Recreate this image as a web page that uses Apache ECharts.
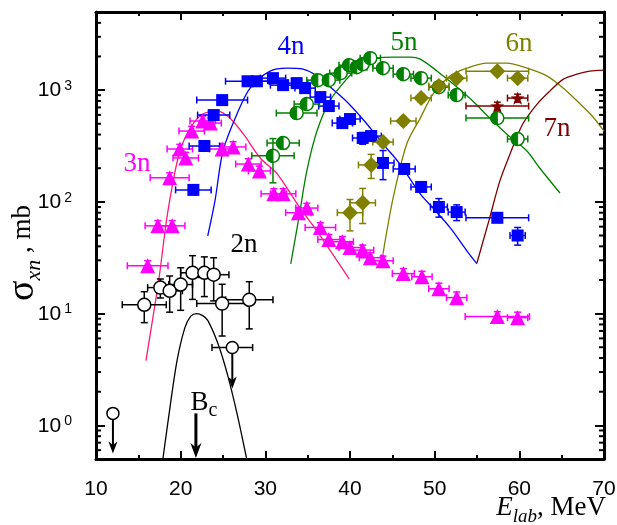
<!DOCTYPE html>
<html>
<head>
<meta charset="utf-8">
<script src="https://cdn.jsdelivr.net/npm/echarts@6/dist/echarts.min.js"></script>
<style>
  html, body { margin: 0; padding: 0; background: #fff; }
  #chart { width: 617px; height: 525px; }
</style>
</head>
<body>
<div id="chart"></div>
<script>
// ---- Measured cross sections (E_lab in MeV, sigma in mb) ----
// (HI,2n)
const e2n  = [15.7, 17.6, 18.7, 20.0, 21.4, 22.8, 23.9, 24.9, 28.1];
const s2n  = [12.0, 17.1, 16.0, 18.2, 23.2, 23.2, 22.3, 12.3, 13.3];
const dx2n = [2.6, 1.5, 1.5, 1.4, 1.4, 1.4, 1.8, 3.0, 2.8];
const dy2n = [3.7, 3.3, 5.7, 7.5, 9.8, 9.0, 9.3, 6.0, 6.0];
// (HI,2n) upper limits
const e2nLim  = [12.0, 26.1];
const s2nLim  = [1.28, 4.97];
const dx2nLim = [0, 2.4];
const tip2nLim = [0.56, 2.14];

// (HI,3n)
const e3n  = [16.1, 17.3, 19.0, 18.7, 19.9, 20.6, 21.3, 22.6, 23.5, 24.9, 26.2, 28.0, 29.3, 31.0, 32.1, 33.9, 34.9, 36.5, 37.5, 39.1, 40.0, 41.5, 42.4, 43.9, 46.3, 48.5, 50.5, 52.6, 57.4, 59.8];
const s3n  = [26.8, 61, 61, 164, 297, 247, 430, 529, 507, 297, 310, 218, 189, 118, 118, 80, 88, 59, 46, 44, 39, 37, 31.6, 29.7, 22.8, 21.4, 16.7, 13.9, 9.4, 9.2];
const dx3n = [2.4, 1.5, 1.5, 2.3, 1.5, 1.5, 1.5, 1.5, 1.3, 1.5, 1.5, 1.5, 1.3, 1.5, 1.5, 1.5, 1.3, 1.8, 1.3, 1.3, 1.3, 1.3, 1.3, 1.2, 1.3, 1.2, 1.2, 1.2, 3.8, 1.2];
const dy3n = [3, 7, 7, 18, 30, 30, 45, 55, 55, 35, 35, 25, 20, 13, 13, 9, 9, 6, 5, 5, 4, 4, 3.5, 3, 2.5, 2.5, 2, 1.7, 1, 1.1];

// (HI,4n)
const e4n  = [21.5, 22.8, 23.9, 24.9, 27.9, 29.0, 30.9, 32.1, 33.7, 34.7, 36.5, 37.5, 39.1, 40.0, 41.5, 42.5, 43.9, 46.4, 48.4, 50.5, 52.6, 57.4, 59.8];
const s4n  = [128, 316, 598, 814, 1200, 1200, 1280, 1108, 1155, 1042, 866, 720, 507, 551, 373, 388, 223, 197, 136, 90, 81, 72, 50];
const dx4n = [2.1, 1.8, 1.9, 3.0, 2.6, 1.5, 1.5, 1.5, 1.3, 1.2, 1.2, 1.2, 1.2, 1.2, 1.2, 1.2, 1.3, 1.3, 1.2, 1.0, 1.0, 3.7, 0.9];
const dy4n = [12, 30, 50, 60, 90, 90, 100, 90, 90, 80, 70, 60, 45, 45, 45, 35, 65, 20, 12, 17, 13, 6, 9];

// (HI,5n)
const e5n  = [30.9, 32.1, 33.7, 34.9, 36.2, 37.5, 38.9, 39.9, 40.8, 41.5, 42.4, 43.9, 46.3, 48.4, 50.5, 52.6, 57.4, 59.8];
const s5n  = [258, 336, 623, 750, 1228, 1228, 1419, 1671, 1604, 1706, 1931, 1572, 1389, 1280, 1063, 902, 562, 365];
const dx5n = [2.5, 1.9, 2.4, 1.5, 1.3, 1.3, 1.3, 1.2, 1.2, 1.2, 1.2, 1.2, 1.2, 1.2, 1.2, 1.0, 3.7, 1.2];
const dy5n = [110, 40, 50, 60, 90, 90, 100, 120, 120, 120, 140, 110, 100, 90, 80, 70, 45, 30];

// (HI,6n)
const e6n  = [40.0, 41.5, 42.5, 43.9, 46.3, 48.4, 50.5, 52.6, 57.4, 59.8];
const s6n  = [80, 98, 214, 343, 529, 849, 1086, 1280, 1478, 1280];
const dx6n = [1.5, 1.5, 1.5, 1.2, 1.5, 1.2, 1.2, 1.2, 3.7, 1.2];
const dy6n = [25, 34, 52, 30, 45, 70, 90, 100, 110, 100];

// (HI,7n)
const e7n  = [57.4, 59.8];
const s7n  = [720, 849];
const dx7n = [3.7, 1.2];
const dy7n = [60, 70];

// ---- Calculated excitation functions ----
const c2nE = [17.9, 18.74, 19.57, 20.5, 21.2, 21.9, 22.6, 23.2, 24.4, 25.5, 26.65, 27.8];
const c2nS = [0.5, 1.45, 3.8, 7.5, 9.5, 10.0, 9.6, 8.7, 5.4, 2.9, 1.28, 0.5];
const c3nE = [15.9, 17.4, 18.5, 19.9, 21.3, 22.6, 24.4, 25.8, 27.4, 29.4, 31.4, 34.1, 36.1, 39.9];
const c3nS = [3.8, 19.7, 83, 285, 477, 611, 649, 562, 405, 247, 178, 88, 55, 20.5];
const c4nE = [23.2, 24.05, 25.0, 26.65, 28.2, 30.55, 32.6, 34.45, 36.1, 38.5, 40.0, 42.0, 43.9, 45.9, 48.3, 49.8, 51.8, 53.8, 55.0];
const c4nS = [49.7, 102, 285, 611, 1042, 1478, 1572, 1540, 1334, 940, 735, 497, 330, 218, 118, 88, 59, 36.5, 27.9];
const c5nE = [33.0, 34.0, 34.9, 36.1, 37.6, 39.6, 41.2, 43.2, 45.1, 47.1, 48.3, 50.3, 52.2, 54.5, 56.5, 58.5, 60.9, 62.4, 64.8];
const c5nS = [27.9, 75, 189, 430, 798, 1253, 1638, 1931, 1972, 1972, 1892, 1478, 1132, 798, 562, 405, 285, 201, 120];
const c6nE = [43.9, 45.1, 46.7, 48.3, 49.8, 51.8, 53.8, 56.2, 58.5, 60.9, 63.3, 65.6, 67.2, 68.6, 70.0];
const c6nS = [34.4, 109, 330, 562, 920, 1334, 1572, 1741, 1741, 1572, 1334, 979, 750, 586, 430];
const c7nE = [55.0, 56.5, 57.7, 58.9, 60.4, 62.1, 63.6, 65.2, 66.8, 68.3, 69.9];
const c7nS = [28.5, 72, 154, 268, 497, 750, 979, 1253, 1389, 1478, 1508];

// Coulomb barrier
const barrierE = [21.8];
const barrierFrom = [1.28];
const barrierTo = [0.51];

// Axis ticks
const xTicks = [10, 20, 30, 40, 50, 60, 70];
const yMinorTicks = [0.6, 0.7, 0.8, 0.9, 2, 3, 4, 5, 6, 7, 8, 9, 20, 30, 40, 50, 60, 70, 80, 90,
                     200, 300, 400, 500, 600, 700, 800, 900, 2000, 3000, 4000];

// ---- Styling ----
const SANS = 'Liberation Sans, Arial, sans-serif';
const SERIF = 'Liberation Serif, Times New Roman, serif';
const MAGENTA = '#ff00ff', PINK = '#ff1a75', BLUE = '#0000ff', GREEN = '#008000',
      OLIVE = '#808000', DARKRED = '#800000', BLACK = '#000000';
const X_MIN = xTicks[0], X_MAX = xTicks[xTicks.length - 1];
const Y_MIN = 0.5, Y_MAX = 5000;

const STAR = 'path://M10,0 L12.35,6.76 L19.51,6.91 L13.8,11.24 L15.88,18.09 L10,14 L4.12,18.09 L6.2,11.24 L0.49,6.91 L7.65,6.76 Z';

function pairs(xs, ys) { return xs.map((x, i) => [x, ys[i]]); }

function curve(xs, ys, color) {
  return {
    type: 'line', data: pairs(xs, ys), showSymbol: false, smooth: 0.3, z: 2,
    silent: true, clip: true,
    lineStyle: { color: color, width: 1.3 }
  };
}

function errorBars(xs, ys, dxs, dys, color) {
  return {
    type: 'custom', z: 3, silent: true, clip: true,
    encode: { x: 0, y: 1 },
    data: xs.map((x, i) => [x, ys[i], dxs[i], dys[i]]),
    renderItem: function (params, api) {
      const x = api.value(0), y = api.value(1), dx = api.value(2), dy = api.value(3);
      const st = { stroke: color, lineWidth: 1.5 };
      const cap = 3.5;
      const kids = [];
      const seg = (x1, y1, x2, y2) => kids.push({ type: 'line', shape: { x1, y1, x2, y2 }, style: st });
      if (dx > 0) {
        const a = api.coord([x - dx, y]), b = api.coord([x + dx, y]);
        seg(a[0], a[1], b[0], b[1]);
        seg(a[0], a[1] - cap, a[0], a[1] + cap);
        seg(b[0], b[1] - cap, b[0], b[1] + cap);
      }
      if (dy > 0) {
        const a = api.coord([x, y + dy]), b = api.coord([x, Math.max(y - dy, y * 0.05)]);
        seg(a[0], a[1], b[0], b[1]);
        seg(a[0] - cap, a[1], a[0] + cap, a[1]);
        seg(b[0] - cap, b[1], b[0] + cap, b[1]);
      }
      return { type: 'group', children: kids };
    }
  };
}

function markers(xs, ys, symbol, size, fill, border, z) {
  return {
    type: 'scatter', data: pairs(xs, ys), symbol: symbol, symbolSize: size,
    symbolKeepAspect: true, z: z || 4, silent: true,
    itemStyle: { color: fill, opacity: 1, borderColor: border || fill, borderWidth: border ? 1.5 : 0 }
  };
}

function arrows(xs, from, to, width, headLen, headHalf) {
  return {
    type: 'custom', z: 4, silent: true, clip: false,
    encode: { x: 0, y: 1 },
    data: xs.map((x, i) => [x, from[i], to[i]]),
    renderItem: function (params, api) {
      const a = api.coord([api.value(0), api.value(1)]);
      const b = api.coord([api.value(0), api.value(2)]);
      return {
        type: 'group', children: [
          { type: 'line', shape: { x1: a[0], y1: a[1], x2: b[0], y2: b[1] - headLen * 0.6 },
            style: { stroke: BLACK, lineWidth: width } },
          { type: 'polygon', shape: { points: [[b[0] - headHalf, b[1] - headLen], [b[0], b[1] - headLen * 0.7],
                                               [b[0] + headHalf, b[1] - headLen], [b[0], b[1]]] },
            style: { fill: BLACK } }
        ]
      };
    }
  };
}

// Open circle with the left half filled
const halfDisc = {
  type: 'custom', z: 4, silent: true, clip: true,
  encode: { x: 0, y: 1 },
  data: pairs(e5n, s5n),
  renderItem: function (params, api) {
    const c = api.coord([api.value(0), api.value(1)]);
    const r = 6.5;
    return {
      type: 'group', children: [
        { type: 'circle', shape: { cx: c[0], cy: c[1], r: r }, style: { fill: '#fff', stroke: GREEN, lineWidth: 1.5 } },
        { type: 'sector', shape: { cx: c[0], cy: c[1], r0: 0, r: r, startAngle: Math.PI / 2, endAngle: Math.PI * 1.5, clockwise: true },
          style: { fill: GREEN, stroke: GREEN, lineWidth: 1 } }
      ]
    };
  }
};

// Minor ticks of the logarithmic axis on the left and right frame edges
const logMinorTicks = {
  type: 'custom', z: 5, silent: true, clip: false,
  encode: { x: 0, y: 1 },
  data: yMinorTicks.map(v => [X_MIN, v]),
  renderItem: function (params, api) {
    const v = api.value(1);
    const l = api.coord([X_MIN, v]), r = api.coord([X_MAX, v]);
    const st = { stroke: BLACK, lineWidth: 2 };
    return {
      type: 'group', children: [
        { type: 'line', shape: { x1: l[0], y1: l[1], x2: l[0] + 5, y2: l[1] }, style: st },
        { type: 'line', shape: { x1: r[0], y1: r[1], x2: r[0] - 5, y2: r[1] }, style: st }
      ]
    };
  }
};

// Curve and reaction-channel labels (placed in data coordinates)
const labelSpots = [
  { text: '3n', e: 14.84, s: 218, color: MAGENTA },
  { text: '4n', e: 33.03, s: 2420, color: BLUE },
  { text: '5n', e: 46.38, s: 2630, color: GREEN },
  { text: '6n', e: 59.96, s: 2573, color: OLIVE },
  { text: '7n', e: 64.45, s: 449, color: DARKRED },
  { text: '2n', e: 27.48, s: 41.3, color: BLACK },
  { text: '{b|B}{c|c}', e: 22.75, s: 1.58, color: BLACK }
];

const labels = {
  type: 'scatter', z: 6, silent: true, symbolSize: 0,
  itemStyle: { opacity: 1 },
  data: labelSpots.map(l => ({
    value: [l.e, l.s],
    label: { formatter: l.text, color: l.color }
  })),
  label: {
    show: true, position: 'inside', fontFamily: SERIF, fontSize: 27, opacity: 1,
    rich: {
      b: { fontFamily: SERIF, fontSize: 27, color: BLACK, lineHeight: 36, verticalAlign: 'middle' },
      c: { fontFamily: SERIF, fontSize: 20, color: BLACK, verticalAlign: 'bottom' }
    }
  }
};

const xCommon = {
  type: 'value', min: X_MIN, max: X_MAX, interval: 10,
  axisLine: { show: true, onZero: false, lineStyle: { color: BLACK, width: 3 } },
  axisTick: { show: true, inside: true, length: 8, lineStyle: { color: BLACK, width: 2 } },
  minorTick: { show: true, splitNumber: 2, length: 4, lineStyle: { color: BLACK, width: 2 } },
  splitLine: { show: false }
};

const yCommon = {
  type: 'log', logBase: 10, min: Y_MIN, max: Y_MAX,
  axisLine: { show: true, onZero: false, lineStyle: { color: BLACK, width: 3 } },
  axisTick: { show: true, inside: true, length: 9, lineStyle: { color: BLACK, width: 2 } },
  splitLine: { show: false }
};

const option = {
  animation: false,
  backgroundColor: '#fff',
  grid: { left: 96, right: 13, top: 12, bottom: 66, containLabel: false, outerBoundsMode: 'none' },
  xAxis: [
    Object.assign({}, xCommon, {
      position: 'bottom',
      axisLabel: { show: true, margin: 20, color: BLACK, fontFamily: SANS, fontSize: 21,
                   formatter: v => (xTicks.indexOf(v) >= 0 ? String(v) : '') }
    }),
    Object.assign({}, xCommon, { position: 'top', axisLabel: { show: false } })
  ],
  yAxis: [
    Object.assign({}, yCommon, {
      position: 'left',
      axisLabel: {
        show: true, margin: 24, showMinLabel: false, showMaxLabel: false,
        formatter: function (v) {
          const lg = Math.log10(v), e = Math.round(lg);
          if (Math.abs(lg - e) > 1e-6) return '';
          return '{b|10}{s|' + e + '}';
        },
        rich: {
          b: { fontFamily: SANS, fontSize: 21, color: BLACK, lineHeight: 22, verticalAlign: 'bottom' },
          s: { fontFamily: SANS, fontSize: 14, color: BLACK, lineHeight: 14, verticalAlign: 'top', padding: [0, 0, 0, 3] }
        }
      }
    }),
    Object.assign({}, yCommon, { position: 'right', axisLabel: { show: false } })
  ],
  graphic: [
    {
      type: 'text', x: 23, y: 253, rotation: Math.PI / 2, silent: true,
      style: {
        text: '{s|σ}{sub|xn}{t| , mb}',
        align: 'center', verticalAlign: 'middle',
        rich: {
          s: { fontFamily: SERIF, fontSize: 38, lineHeight: 44, verticalAlign: 'middle', fill: BLACK },
          sub: { fontFamily: SERIF, fontStyle: 'italic', fontSize: 22, verticalAlign: 'bottom', fill: BLACK },
          t: { fontFamily: SERIF, fontSize: 27, lineHeight: 44, verticalAlign: 'middle', fill: BLACK }
        }
      }
    },
    {
      type: 'text', x: 606, y: 508, silent: true,
      style: {
        text: '{e|E}{sub|lab}{t|, MeV}',
        align: 'right', verticalAlign: 'middle',
        rich: {
          e: { fontFamily: SERIF, fontStyle: 'italic', fontSize: 27, lineHeight: 36, verticalAlign: 'middle', fill: BLACK },
          sub: { fontFamily: SERIF, fontStyle: 'italic', fontSize: 19, verticalAlign: 'bottom', fill: BLACK },
          t: { fontFamily: SERIF, fontSize: 27, lineHeight: 36, verticalAlign: 'middle', fill: BLACK }
        }
      }
    }
  ],
  series: [
    curve(c2nE, c2nS, BLACK),
    curve(c3nE, c3nS, PINK),
    curve(c4nE, c4nS, BLUE),
    curve(c5nE, c5nS, GREEN),
    curve(c6nE, c6nS, OLIVE),
    curve(c7nE, c7nS, DARKRED),

    errorBars(e3n, s3n, dx3n, dy3n, MAGENTA),
    errorBars(e4n, s4n, dx4n, dy4n, BLUE),
    errorBars(e5n, s5n, dx5n, dy5n, GREEN),
    errorBars(e6n, s6n, dx6n, dy6n, OLIVE),
    errorBars(e7n, s7n, dx7n, dy7n, DARKRED),
    errorBars(e2n, s2n, dx2n, dy2n, BLACK),
    errorBars(e2nLim, s2nLim, dx2nLim, [0, 0], BLACK),

    arrows(e2nLim, s2nLim, tip2nLim, 2, 12, 4.5),
    arrows(barrierE, barrierFrom, barrierTo, 3, 15, 5.5),

    markers(e3n, s3n, 'triangle', 15, MAGENTA),
    markers(e4n, s4n, 'rect', 12, BLUE),
    halfDisc,
    markers(e6n, s6n, 'diamond', 16, OLIVE),
    markers(e7n, s7n, STAR, 14, DARKRED),
    markers(e2n, s2n, 'circle', 13, '#ffffff', BLACK, 5),
    markers(e2nLim, s2nLim, 'circle', 12, '#ffffff', BLACK, 5),

    logMinorTicks,
    labels
  ]
};

const chart = echarts.init(document.getElementById('chart'), null, { renderer: 'canvas' });
chart.setOption(option);
</script>
</body>
</html>
